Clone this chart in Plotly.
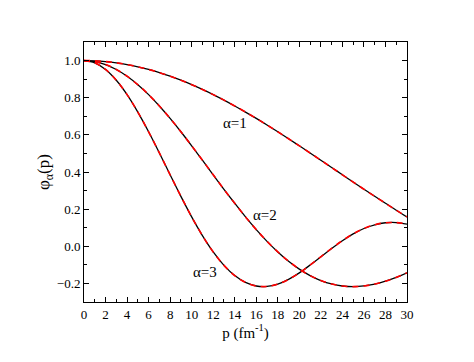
import plotly.graph_objects as go

p = list(range(0, 31))
phi1 = [1.0, .9987, .9946, .9879, .9785, .9666, .9521, .9352, .9158, .8942, .8704,
        .8445, .8167, .7870, .7556, .7227, .6885, .6531, .6166, .5791, .5410,
        .5024, .4634, .4241, .3849, .3458, .3069, .2690, .2316, .1944, .1583]
phi2 = [1.0, .9946, .9785, .9521, .9158, .8704, .8167, .7556, .6885, .6166, .5410,
        .4634, .3849, .3069, .2316, .1583, .0898, .0266, -.0303, -.0804, -.1229,
        -.1577, -.1844, -.2030, -.2139, -.2172, -.2136, -.2035, -.1878, -.1675, -.1431]
phi3 = [1.0, .9879, .9521, .8942, .8167, .7227, .6166, .5024, .3849, .2690, .1583,
        .0575, -.0303, -.1026, -.1577, -.1947, -.2139, -.2162, -.2035, -.1782, -.1431,
        -.1013, -.0567, -.0118, .0302, .0667, .0957, .1159, .1266, .1277, .1197]

labels = ["α=1", "α=2", "α=3"]
label_x = [14.0, 16.8, 11.2]
label_y = [0.666, 0.171, -0.136]

x_ticks = list(range(0, 31, 2))
y_ticks = [-0.2, 0.0, 0.2, 0.4, 0.6, 0.8, 1.0]

SERIF = "Liberation Serif, Times New Roman, Times, serif"

fig = go.Figure()
for ys in (phi1, phi2, phi3):
    fig.add_trace(go.Scatter(x=p, y=ys, mode="lines",
                             line=dict(color="black", width=1.3, shape="spline"),
                             showlegend=False, hoverinfo="skip"))
for ys in (phi1, phi2, phi3):
    fig.add_trace(go.Scatter(x=p, y=ys, mode="lines",
                             line=dict(color="red", width=1.6, dash="6px,5px", shape="spline"),
                             showlegend=False, hoverinfo="skip"))

for t, lx, ly in zip(labels, label_x, label_y):
    fig.add_annotation(x=lx, y=ly, text=t, showarrow=False,
                       font=dict(family=SERIF, size=15, color="black"))

font = dict(family=SERIF, size=13, color="black")
fig.update_layout(
    width=466, height=346,
    margin=dict(l=76, r=67, t=34, b=52),
    paper_bgcolor="white", plot_bgcolor="white",
    font=font,
    xaxis=dict(range=[0, 30], tickvals=x_ticks, ticks="inside", ticklen=5,
               tickcolor="black", showline=True, linecolor="black", linewidth=1,
               mirror="ticks", showgrid=False, zeroline=False,
               minor=dict(dtick=1, ticks="inside", ticklen=3, tickcolor="black"),
               title=dict(text="p (fm<sup>-1</sup>)", font=dict(family=SERIF, size=15), standoff=6),
               tickfont=font),
    yaxis=dict(range=[-0.3, 1.1], tickvals=y_ticks, tickformat=".1f", ticks="inside", ticklen=5,
               tickcolor="black", showline=True, linecolor="black", linewidth=1,
               mirror="ticks", showgrid=False, zeroline=False,
               minor=dict(dtick=0.1, tick0=0, ticks="inside", ticklen=3, tickcolor="black"),
               title=dict(text="φ<sub>α</sub>(p)", font=dict(family=SERIF, size=17), standoff=2),
               tickfont=font),
)
fig.write_html("out.html")
